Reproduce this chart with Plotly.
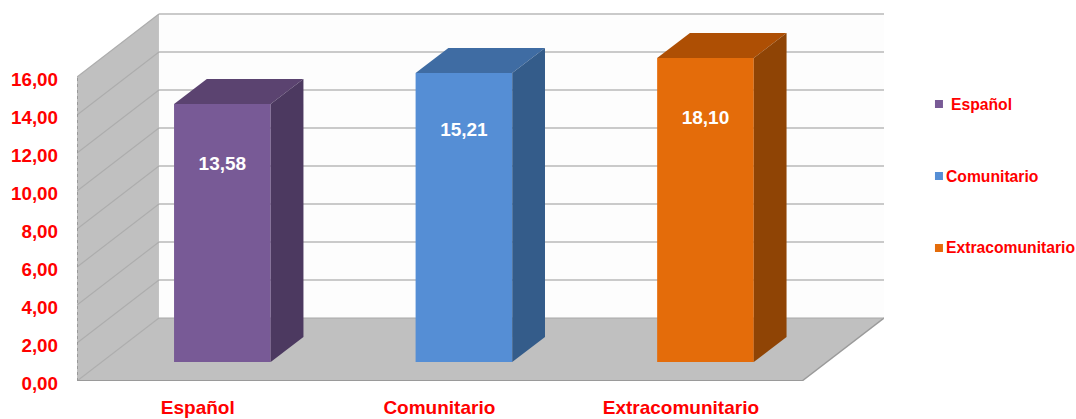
import plotly.graph_objects as go

categories = ["Español", "Comunitario", "Extracomunitario"]
values = [13.58, 15.21, 18.10]
value_labels = ["13,58", "15,21", "18,10"]
label_drop = [3.2, 3.05, 3.2]
y_ticks = [0, 2, 4, 6, 8, 10, 12, 14, 16]
y_tick_labels = ["0,00", "2,00", "4,00", "6,00", "8,00", "10,00", "12,00", "14,00", "16,00"]
front_colors = ["#785a96", "#558ed5", "#e46c0a"]
top_colors = ["#5b4370", "#3f6ca3", "#ae4f04"]
side_colors = ["#4c3960", "#345c8a", "#8f4405"]

AXIS_MAX = 16
W, H = 1076, 419
L, R, T, B = 76.5, 884, 12, 381
CAT_PX = 241.7
UNIT_PX = 19.0
DEPTH_X = 82.0 / CAT_PX      # wall depth in category units
DEPTH_Y = 63.0 / UNIT_PX     # wall depth in value units
XMAX = (R - L) / CAT_PX
YMAX = (B - T) / UNIT_PX
BAR_W = 0.4
D0, D1 = 0.30, 0.70


def proj(x, v, d):
    return x + d * DEPTH_X, v + d * DEPTH_Y


def poly(pts, **kw):
    path = "M" + " L".join(f"{a},{b}" for a, b in pts) + " Z"
    return dict(type="path", path=path, xref="x", yref="y", layer="below", **kw)


def seg(p, q, color, width, dash="solid"):
    return dict(type="line", x0=p[0], y0=p[1], x1=q[0], y1=q[1], xref="x", yref="y",
                layer="below", line=dict(color=color, width=width, dash=dash))


WALL = "#c0c0c0"
GRID = "#b8b8b8"
shapes = []
# back wall
shapes.append(poly([proj(0, 0, 1), proj(XMAX - DEPTH_X, 0, 1), proj(XMAX - DEPTH_X, AXIS_MAX, 1), proj(0, AXIS_MAX, 1)],
                   fillcolor="#fdfdfd", line=dict(width=0)))
# side wall
shapes.append(poly([proj(0, 0, 0), proj(0, 0, 1), proj(0, AXIS_MAX, 1), proj(0, AXIS_MAX, 0)],
                   fillcolor=WALL, line=dict(width=0)))
# floor
shapes.append(poly([proj(0, 0, 0), proj(0, 0, 1), proj(XMAX - DEPTH_X, 0, 1), proj(XMAX - DEPTH_X, 0, 0)],
                   fillcolor=WALL, line=dict(width=0)))
for t in y_ticks[1:]:
    shapes.append(seg(proj(0, t, 1), proj(XMAX - DEPTH_X, t, 1), GRID, 1.5))
for t in y_ticks:
    shapes.append(seg(proj(0, t, 0), proj(0, t, 1), "#adadad", 1.2))
shapes.append(seg(proj(0, 0, 0), proj(0, AXIS_MAX, 0), "#8c8c8c", 1.5, "dot"))
shapes.append(seg(proj(0, 0, 0), proj(XMAX - DEPTH_X, 0, 0), "#9a9a9a", 2))
shapes.append(seg(proj(XMAX - DEPTH_X, 0, 0), proj(XMAX - DEPTH_X, 0, 1), "#9a9a9a", 1.5))
shapes.append(seg(proj(0, 0, 1), proj(XMAX - DEPTH_X, 0, 1), "#a8a8a8", 1))

fig = go.Figure()
for i, (name, v) in enumerate(zip(categories, values)):
    shown = min(v, AXIS_MAX)
    c = i + 0.5
    x0, x1 = c - BAR_W / 2, c + BAR_W / 2
    fx, base = proj(c, 0, D0)
    fig.add_trace(go.Bar(x=[fx], y=[shown], base=[base], width=[BAR_W], name=name,
                         marker=dict(color=front_colors[i], line=dict(width=0)),
                         showlegend=False, hoverinfo="skip"))
    top = [proj(x0, shown, D0), proj(x1, shown, D0), proj(x1, shown, D1), proj(x0, shown, D1), proj(x0, shown, D0)]
    fig.add_trace(go.Scatter(x=[p[0] for p in top], y=[p[1] for p in top], mode="lines", fill="toself",
                             fillcolor=top_colors[i], line=dict(width=0), showlegend=False, hoverinfo="skip"))
    side = [proj(x1, 0, D0), proj(x1, shown, D0), proj(x1, shown, D1), proj(x1, 0, D1), proj(x1, 0, D0)]
    fig.add_trace(go.Scatter(x=[p[0] for p in side], y=[p[1] for p in side], mode="lines", fill="toself",
                             fillcolor=side_colors[i], line=dict(width=0), showlegend=False, hoverinfo="skip"))
    fig.add_trace(go.Scatter(x=[fx], y=[base + shown - label_drop[i]], mode="text", text=[value_labels[i]],
                             textfont=dict(family="Liberation Sans", size=19, color="white", weight="bold"),
                             showlegend=False, hoverinfo="skip"))

# legend, placed to the right of the plot area
legend_y_px = [104, 176, 248]
legend_text_x_px = [949.7, 945.4, 945.4]
annotations = []


def px(x):
    return (x - L) / (R - L)


def py(y):
    return (B - y) / (B - T)


for i, name in enumerate(categories):
    yc = legend_y_px[i]
    shapes.append(dict(type="rect", xref="paper", yref="paper", x0=px(935), x1=px(943),
                       y0=py(yc + 4), y1=py(yc - 4), fillcolor=front_colors[i], line=dict(width=0)))
    annotations.append(dict(xref="paper", yref="paper", x=px(legend_text_x_px[i] - 1), y=py(yc),
                            xanchor="left", yanchor="middle", text=f"<b>{name}</b>", showarrow=False,
                            font=dict(family="Liberation Sans", size=15.7, color="#ff0000")))

fig.update_layout(
    width=W, height=H, autosize=False,
    margin=dict(l=L, r=W - R, t=T, b=H - B),
    paper_bgcolor="white", plot_bgcolor="white",
    showlegend=False, barmode="overlay",
    shapes=shapes, annotations=annotations,
    xaxis=dict(range=[0, XMAX], tickmode="array", tickvals=[i + 0.5 for i in range(3)], ticktext=categories,
               automargin=False,
               showgrid=False, zeroline=False, showline=False, ticks="", ticklabelstandoff=13,
               tickfont=dict(family="Liberation Sans", size=19, color="#ff0000", weight="bold")),
    yaxis=dict(range=[0, YMAX], tickmode="array", tickvals=y_ticks, ticktext=y_tick_labels,
               automargin=False,
               showgrid=False, zeroline=False, showline=False, ticks="", ticklabelstandoff=18, ticklabelshift=2,
               tickfont=dict(family="Liberation Sans", size=18.8, color="#ff0000", weight="bold")),
)

fig.write_html("out.html", config=dict(displayModeBar=False),
               post_script="document.body.style.margin='0';document.body.style.overflow='hidden';")
